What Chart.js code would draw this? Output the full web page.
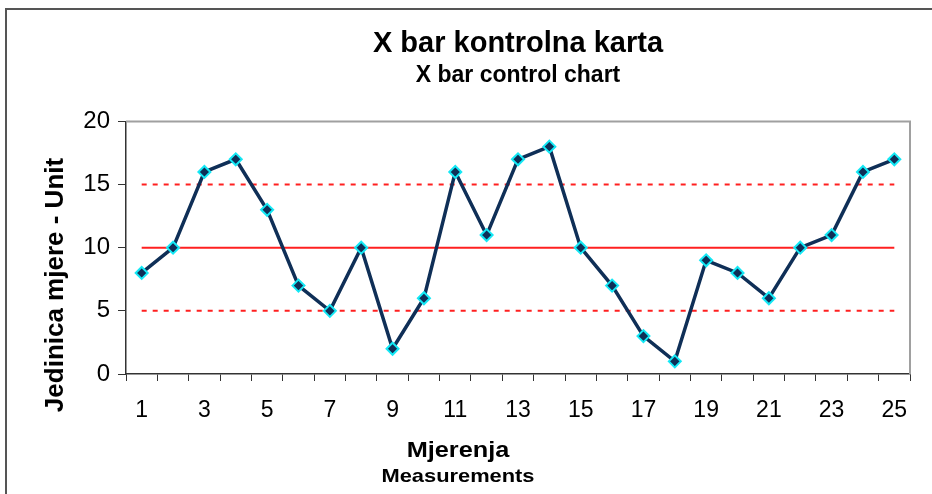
<!DOCTYPE html>
<html>
<head>
<meta charset="utf-8">
<script src="https://cdn.jsdelivr.net/npm/chart.js@4.4.1/dist/chart.umd.min.js"></script>
<style>
  html, body { margin: 0; padding: 0; background: #fff; overflow: hidden; }
  #frame { position: absolute; left: 5px; top: 8px; width: 960px; height: 520px; border: 2px solid #555; }
  #wrap { position: absolute; left: 0; top: 0; width: 932px; height: 494px; }
</style>
</head>
<body>
<div id="frame"></div>
<div id="wrap"><canvas id="chart" width="932" height="494"></canvas></div>
<script>
// data
const categories = ['1','2','3','4','5','6','7','8','9','10','11','12','13','14','15','16','17','18','19','20','21','22','23','24','25'];
const measurements = [8, 10, 16, 17, 13, 7, 5, 10, 2, 6, 16, 11, 17, 18, 10, 7, 3, 1, 9, 8, 6, 10, 11, 16, 17];
const centerLine = 10;
const upperLimit = 15;
const lowerLimit = 5;
const yTicks = [0, 5, 10, 15, 20];

const FONT = "'Liberation Sans', Arial, sans-serif";

// axis titles sit off-centre in the original, drawn here by hand
const axisTitles = {
    id: 'axisTitles',
    beforeDatasetsDraw(chart) {
        const ctx = chart.ctx;
        const a = chart.chartArea;
        ctx.save();
        ctx.strokeStyle = '#a0a0a0';
        ctx.lineWidth = 2;
        ctx.beginPath();
        ctx.moveTo(a.left, a.top);
        ctx.lineTo(a.right, a.top);
        ctx.lineTo(a.right, a.bottom);
        ctx.stroke();
        ctx.restore();
    },
    afterDraw(chart) {
        const ctx = chart.ctx;
        ctx.save();
        ctx.fillStyle = '#000';
        ctx.textAlign = 'center';
        ctx.textBaseline = 'middle';
        ctx.save();
        ctx.translate(458, 0);
        ctx.scale(1.15, 1);
        ctx.font = 'bold 22px ' + FONT;
        ctx.fillText('Mjerenja', 0, 451);
        ctx.font = 'bold 19px ' + FONT;
        ctx.fillText('Measurements', 0, 477);
        ctx.restore();
        ctx.translate(56, 285);
        ctx.rotate(-Math.PI / 2);
        ctx.font = 'bold 26px ' + FONT;
        ctx.fillText('Jedinica mjere - Unit', 0, 0);
        ctx.restore();
    }
};

const limitStyle = {
    borderColor: '#ff2020',
    borderWidth: 2,
    pointRadius: 0,
    pointHoverRadius: 0,
    fill: false,
    tension: 0
};

new Chart(document.getElementById('chart'), {
    type: 'line',
    data: {
        labels: categories,
        datasets: [
            {
                label: 'X bar',
                data: measurements,
                borderColor: '#0f2f57',
                borderWidth: 3.5,
                pointStyle: 'rectRot',
                pointRadius: 6,
                pointBackgroundColor: '#0f2f57',
                pointBorderColor: '#14e8f5',
                pointBorderWidth: 2,
                tension: 0,
                order: 0
            },
            Object.assign({ label: 'CL', data: categories.map(() => centerLine), order: 1 }, limitStyle),
            Object.assign({ label: 'UCL', data: categories.map(() => upperLimit), borderDash: [5, 6], order: 1 }, limitStyle),
            Object.assign({ label: 'LCL', data: categories.map(() => lowerLimit), borderDash: [5, 6], order: 1 }, limitStyle)
        ]
    },
    options: {
        responsive: false,
        animation: false,
        devicePixelRatio: 1,
        layout: { padding: { left: 0, right: 22, top: 0, bottom: 0 } },
        plugins: {
            legend: { display: false },
            tooltip: { enabled: false },
            // fullSize false keeps the titles centred over the plot area
            title: {
                display: true,
                fullSize: false,
                text: 'X bar kontrolna karta',
                color: '#000',
                font: { family: FONT, size: 29, weight: 'bold' },
                padding: { top: 27, bottom: 0 }
            },
            subtitle: {
                display: true,
                fullSize: false,
                text: 'X bar control chart',
                color: '#000',
                font: { family: FONT, size: 23, weight: 'bold' },
                padding: { top: 0, bottom: 32 }
            }
        },
        scales: {
            x: {
                type: 'category',
                offset: true,
                afterFit(scale) { scale.height = 120; },
                border: { display: true, color: '#333', width: 1.5 },
                grid: { display: true, offset: true, drawOnChartArea: false, drawTicks: true, tickLength: 7, color: '#333', lineWidth: 1 },
                ticks: {
                    autoSkip: false,
                    maxRotation: 0,
                    color: '#000',
                    padding: 16,
                    font: { family: FONT, size: 23 },
                    callback(value, index) { return index % 2 === 0 ? categories[index] : ''; }
                }
            },
            y: {
                min: 0,
                max: 20,
                afterFit(scale) { scale.width = 126; },
                afterBuildTicks(scale) { scale.ticks = yTicks.map(v => ({ value: v })); },
                border: { display: true, color: '#333', width: 1.5 },
                grid: { display: true, drawOnChartArea: false, drawTicks: true, tickLength: 8, color: '#333' },
                ticks: {
                    color: '#000',
                    padding: 8,
                    font: { family: FONT, size: 24 }
                }
            }
        }
    },
    plugins: [axisTitles]
});
</script>
</body>
</html>
